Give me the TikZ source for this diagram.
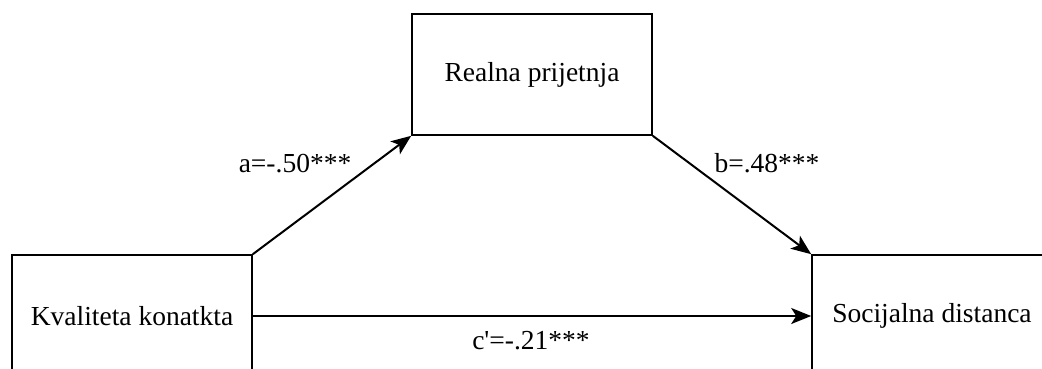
\documentclass[tikz,border=0pt]{standalone}
\usepackage{fontspec}
\setmainfont{Liberation Serif}
\usetikzlibrary{arrows.meta}
\begin{document}
\begin{tikzpicture}[x=1pt,y=-1pt,
  box/.style={draw,line width=1.6pt,minimum width=240pt,inner sep=0pt,font=\fontsize{27.5}{32}\selectfont},
  conn/.style={line width=2pt,-{Stealth[length=20pt,width=16pt,inset=5pt]}},
  lbl/.style={font=\fontsize{27.5}{32}\selectfont,inner sep=0pt,anchor=base}]
\clip (0,0) rectangle (1042,368);
\useasboundingbox (0,0) rectangle (1042,368);
\node[box,minimum height=121pt] (top) at (532,74.5) {Realna prijetnja};
\node[box,minimum height=122pt] (left) at (132,316) {Kvaliteta konatkta};
\node[box,minimum height=122pt] (right) at (932,316) {Socijalna distanca};
\draw[conn] (left.north east) -- (top.south west);
\draw[conn] (top.south east) -- (right.north west);
\draw[conn] (left.east) -- (right.west);
\node[lbl] (la) at (295,172) {a=-.50***};
\node[lbl] (lb) at (767,172) {b=.48***};
\node[lbl] (lc) at (531,349) {c\textquotesingle=-.21***};
\end{tikzpicture}
\end{document}
